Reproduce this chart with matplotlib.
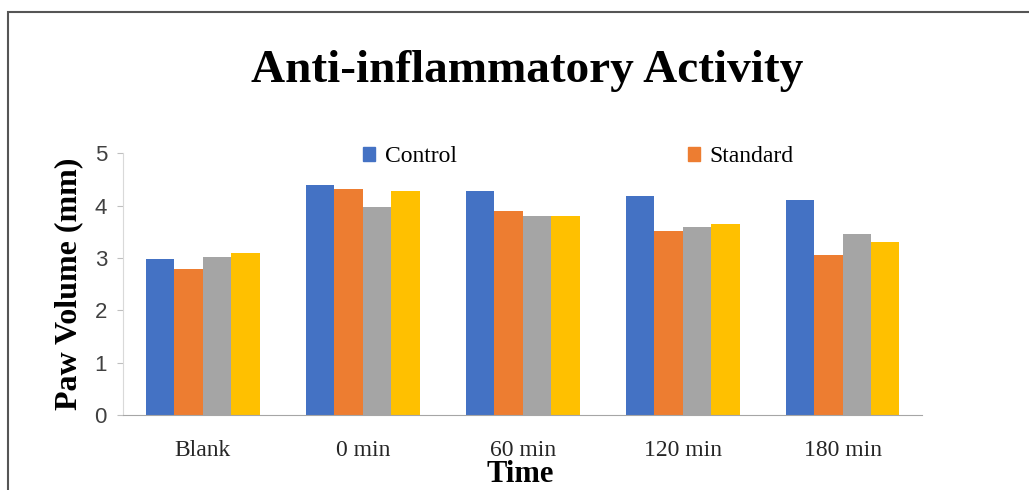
import matplotlib.pyplot as plt
import numpy as np
from matplotlib.patches import Patch, Rectangle

# paw volume readings per time point
times = ['Blank', '0 min', '60 min', '120 min', '180 min']
control = [2.98, 4.40, 4.28, 4.19, 4.11]
standard = [2.80, 4.32, 3.90, 3.51, 3.05]
group_3 = [3.02, 3.98, 3.81, 3.60, 3.46]
group_4 = [3.09, 4.28, 3.81, 3.65, 3.31]

series = [control, standard, group_3, group_4]
colors = ['#4472C4', '#ED7D31', '#A5A5A5', '#FFC000']

plt.rcParams['font.family'] = ['Liberation Serif', 'DejaVu Serif']

fig = plt.figure(figsize=(10.29, 4.9), dpi=100)
ax = fig.add_axes([0.1195, 0.153, 0.777, 0.534])

x = np.arange(len(times))
w = 0.178
for i, vals in enumerate(series):
    ax.bar(x + (i - 1.5) * w, vals, width=w, color=colors[i])

ax.set_xlim(-0.5, len(times) - 0.5)
ax.set_ylim(0, 5)
ax.set_yticks([0, 1, 2, 3, 4, 5])
ax.set_xticks(x)
ax.set_xticklabels(times, fontsize=17, color='#262626')
for lab in ax.get_yticklabels():
    lab.set_fontfamily('Liberation Sans')
    lab.set_fontsize(16)
    lab.set_color('#404040')
ax.tick_params(axis='x', length=0, pad=18)
ax.tick_params(axis='y', length=4.5, color='#BFBFBF', pad=7)
for s in ['top', 'right']:
    ax.spines[s].set_visible(False)
ax.spines['left'].set_color('#D9D9D9')
ax.spines['bottom'].set_color('#A6A6A6')

ax.set_ylabel('Paw Volume (mm)', fontsize=23, fontweight='bold')
ax.yaxis.set_label_coords(-0.05, 0.5)
ax.set_xlabel('Time', fontsize=22, fontweight='bold')
ax.xaxis.set_label_coords(0.497, -0.172)

fig.text(0.512, 0.855, 'Anti-inflammatory Activity', ha='center', va='center',
         fontsize=34, fontweight='bold')

handles = [Patch(color=colors[0], label='Control'), Patch(color=colors[1], label='Standard')]
fig.legend(handles=handles, loc='center', bbox_to_anchor=(0.562, 0.68), ncol=2,
           frameon=False, fontsize=17, handlelength=0.5, handleheight=0.5,
           handletextpad=0.4, columnspacing=9.8)

# outer chart frame
fig.patches.append(Rectangle((8 / 1029, -0.1), 1.2, 0.1 + 1 - 12 / 490,
                             transform=fig.transFigure, fill=False,
                             edgecolor='#555555', linewidth=1.5))

fig.savefig('out.png', dpi=100)
